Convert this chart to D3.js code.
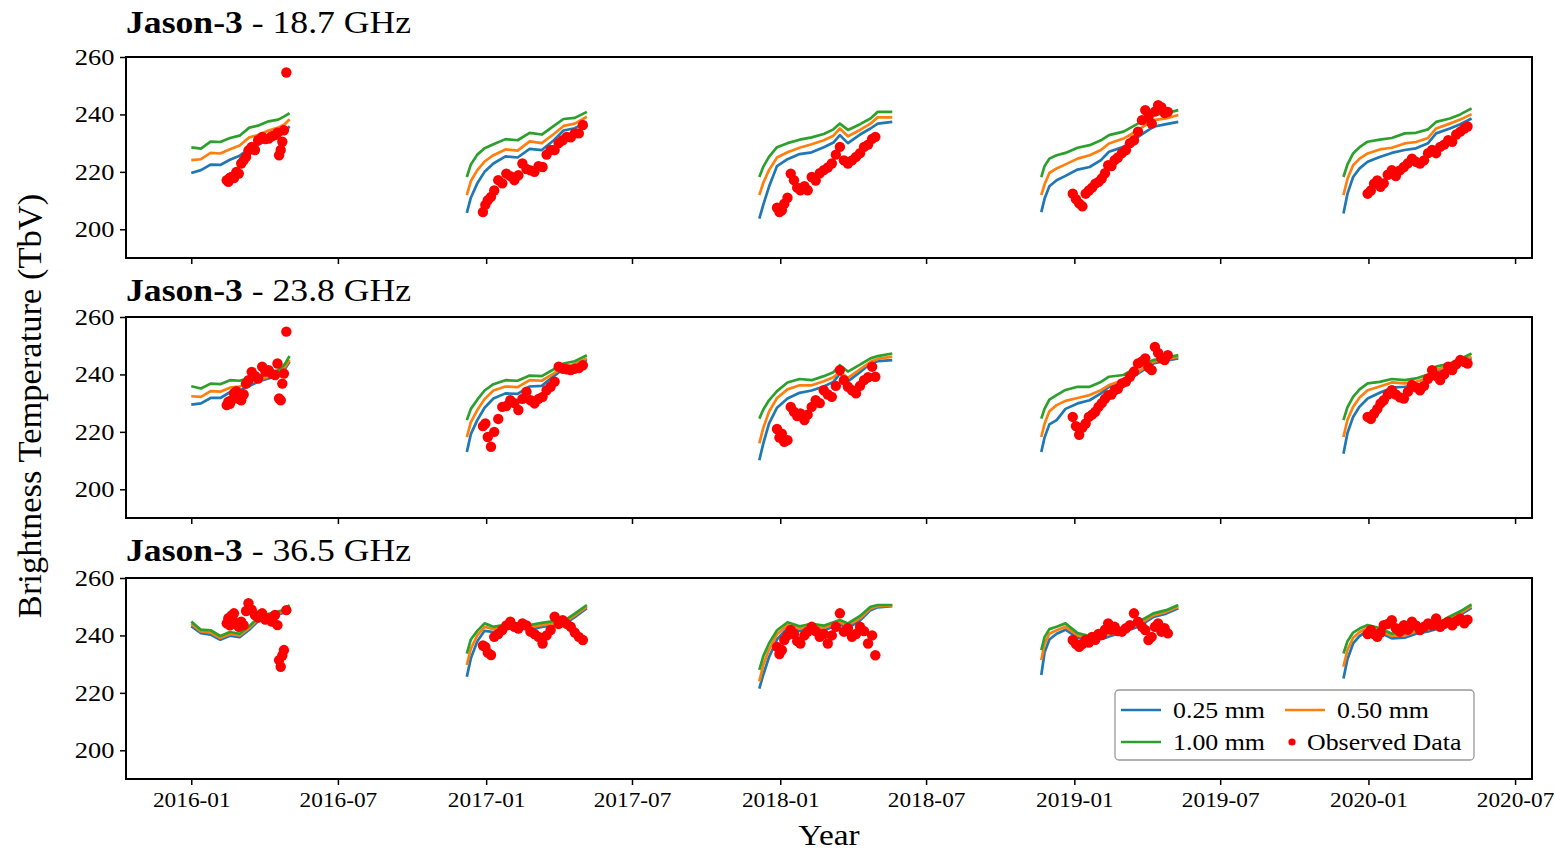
<!DOCTYPE html>
<html lang="en">
<head>
<meta charset="UTF-8">
<title>Jason-3 brightness temperature</title>
<script src="https://cdn.jsdelivr.net/npm/d3@7"></script>
<style>
    html, body { margin: 0; padding: 0; background: #fff; }
    svg { display: block; font-family: "Liberation Serif", "Times New Roman", serif; }
</style>
</head>
<body>
<svg id="chart" width="1555" height="852"></svg>
<script>
// dates are days since 2016-01-01, one list per season (Dec..May)
const lineDays = [
    [0, 12, 24, 36, 48, 60, 72, 84, 96, 108, 116, 122],
    [342, 347, 355, 364, 375, 390, 405, 420, 435, 450, 462, 476, 491],
    [705, 710, 717, 727, 740, 755, 770, 785, 797, 805, 815, 830, 843, 852, 870],
    [1055, 1059, 1065, 1074, 1085, 1100, 1115, 1129, 1139, 1157, 1175, 1194, 1210, 1225],
    [1430, 1435, 1442, 1450, 1460, 1475, 1490, 1506, 1520, 1535, 1545, 1562, 1575, 1589]
]
const obsDays = [
    [44, 46, 48, 50, 53, 56, 59, 62, 65, 68, 71, 75, 79, 83, 88, 92, 96, 100, 104, 107, 109, 111, 113, 115, 118],
    [362, 365, 368, 372, 376, 381, 386, 391, 396, 401, 406, 411, 416, 421, 426, 431, 436, 441, 446, 451, 456, 461, 466, 471, 476, 481, 486],
    [727, 730, 733, 736, 740, 744, 748, 752, 756, 761, 765, 770, 775, 780, 785, 790, 795, 800, 805, 810, 815, 820, 825, 830, 835, 840, 845, 849],
    [1094, 1098, 1102, 1106, 1110, 1114, 1118, 1122, 1126, 1130, 1134, 1138, 1142, 1146, 1150, 1155, 1160, 1165, 1170, 1175, 1180, 1184, 1188, 1192, 1196, 1200, 1204, 1208, 1212],
    [1460, 1464, 1468, 1472, 1476, 1480, 1485, 1490, 1495, 1500, 1505, 1510, 1515, 1520, 1525, 1530, 1535, 1540, 1545, 1550, 1555, 1560, 1565, 1570, 1575, 1580, 1584]
]

const channels = ['18.7 GHz', '23.8 GHz', '36.5 GHz']
const seriesNames = ['0.25 mm', '0.50 mm', '1.00 mm']
const yTicks = [200, 220, 240, 260]

// 18.7 GHz
const tb187_025 = [
    [219.6, 220.6, 222.5, 222.4, 224.2, 225.6, 228.1, 229.6, 231.4, 232.6, 233.6, 235.9],
    [205.7, 211.0, 216.0, 220.0, 222.9, 225.4, 225.0, 228.0, 227.6, 231.0, 234.4, 235.2, 237.4],
    [203.7, 208.6, 214.8, 222.0, 224.4, 226.2, 226.8, 228.6, 230.2, 232.8, 230.0, 233.0, 235.1, 236.8, 237.4],
    [206.0, 210.6, 215.0, 217.1, 218.6, 220.8, 221.7, 224.1, 227.0, 228.7, 232.2, 235.7, 236.6, 237.4],
    [205.5, 212.4, 218.2, 221.2, 223.5, 225.2, 226.6, 227.6, 228.2, 230.0, 233.4, 235.1, 236.6, 238.6]
]
const tb187_050 = [
    [224.1, 224.4, 226.6, 226.4, 227.9, 229.2, 232.0, 232.9, 234.4, 235.4, 236.6, 238.3],
    [211.9, 216.8, 220.6, 223.6, 225.8, 227.8, 227.4, 230.6, 230.0, 233.2, 236.0, 236.8, 239.2],
    [211.9, 216.2, 220.6, 225.0, 226.8, 228.4, 229.6, 231.0, 232.6, 235.1, 232.4, 234.6, 236.8, 239.0, 239.0],
    [211.9, 215.6, 219.6, 221.2, 222.6, 224.6, 225.8, 227.6, 229.9, 231.6, 234.5, 238.0, 238.6, 239.8],
    [211.9, 217.6, 222.3, 224.6, 226.4, 227.8, 228.4, 229.9, 230.4, 231.8, 235.1, 236.8, 238.2, 240.1]
]
const tb187_100 = [
    [228.5, 228.1, 230.5, 230.4, 231.8, 232.6, 235.4, 236.2, 237.6, 238.2, 239.4, 240.4],
    [218.2, 222.6, 226.0, 228.2, 229.6, 231.4, 231.0, 233.6, 233.0, 236.0, 238.4, 238.8, 240.9],
    [218.2, 221.8, 225.2, 228.6, 230.0, 231.2, 232.0, 233.2, 234.8, 236.8, 234.6, 236.6, 238.6, 240.9, 240.9],
    [218.2, 222.0, 224.6, 225.8, 226.6, 228.4, 229.3, 231.0, 232.8, 234.0, 236.8, 239.8, 240.4, 241.5],
    [218.2, 222.6, 226.4, 228.6, 230.5, 231.2, 231.8, 233.4, 233.6, 234.8, 237.4, 238.6, 240.0, 242.1]
]
const obs187 = [
    [217.1, 216.5, 218.0, 218.2, 217.8, 220.0, 219.4, 222.9, 224.0, 225.2, 227.5, 228.7, 227.6, 231.0, 232.2, 231.4, 231.6, 232.4, 232.8, 233.6, 225.8, 227.6, 230.5, 234.5, 254.6],
    [206.0, 208.5, 210.1, 211.3, 213.5, 217.1, 216.0, 219.4, 218.5, 217.1, 218.8, 222.9, 221.0, 220.5, 220.0, 222.0, 221.7, 226.0, 227.6, 227.6, 230.0, 231.0, 232.2, 232.0, 233.4, 233.4, 236.3],
    [207.5, 206.0, 206.6, 208.9, 211.0, 219.4, 217.1, 214.5, 213.6, 215.0, 213.6, 218.2, 217.0, 219.5, 220.6, 221.5, 222.9, 226.0, 228.7, 224.0, 222.9, 224.0, 225.2, 226.5, 228.7, 229.5, 231.5, 232.2],
    [212.4, 210.5, 209.0, 208.0, 212.4, 213.5, 214.5, 215.9, 216.5, 217.7, 219.5, 222.3, 222.0, 224.1, 225.0, 226.5, 227.6, 230.0, 231.0, 234.0, 238.0, 241.5, 239.0, 236.8, 241.0, 243.2, 242.5, 240.5, 240.9],
    [212.4, 213.5, 215.9, 217.0, 214.8, 216.0, 219.0, 220.6, 218.5, 220.5, 221.7, 223.0, 224.6, 223.5, 222.9, 224.0, 226.5, 227.6, 226.5, 228.7, 229.5, 231.0, 230.5, 233.0, 234.0, 235.1, 235.8]
]

// 23.8 GHz
const tb238_025 = [
    [229.5, 229.9, 231.8, 231.8, 233.8, 234.4, 236.0, 237.6, 238.6, 239.8, 241.8, 244.4],
    [213.0, 219.2, 224.1, 228.4, 231.6, 233.4, 233.2, 235.8, 236.0, 239.4, 242.0, 243.0, 245.0],
    [210.1, 216.0, 222.9, 228.4, 231.6, 233.6, 234.4, 235.8, 237.4, 240.3, 237.6, 240.8, 243.8, 244.6, 245.0],
    [213.0, 218.0, 222.6, 224.1, 228.0, 229.9, 231.0, 233.4, 235.7, 236.9, 240.3, 243.8, 244.8, 245.6],
    [212.4, 219.6, 225.2, 228.8, 231.6, 233.6, 235.4, 235.7, 236.2, 237.6, 240.9, 242.7, 244.0, 245.6]
]
const tb238_050 = [
    [232.4, 232.2, 234.2, 234.0, 235.4, 235.8, 237.2, 238.2, 239.2, 240.3, 242.4, 245.0],
    [218.2, 223.4, 227.6, 231.4, 234.4, 235.8, 235.6, 238.0, 237.8, 240.4, 242.6, 243.6, 245.6],
    [216.0, 221.4, 227.0, 231.8, 234.8, 236.2, 236.2, 237.6, 239.0, 240.9, 238.8, 241.8, 244.4, 245.4, 246.2],
    [218.2, 222.8, 227.2, 229.3, 230.8, 231.8, 232.8, 234.5, 236.3, 238.0, 240.9, 244.4, 245.2, 246.2],
    [218.2, 224.2, 228.7, 232.0, 234.5, 235.8, 237.2, 236.9, 237.4, 238.8, 241.5, 243.2, 244.6, 246.2]
]
const tb238_100 = [
    [235.9, 235.1, 236.8, 236.6, 238.0, 237.8, 238.8, 239.0, 240.2, 241.5, 243.5, 246.4],
    [224.1, 228.0, 231.2, 234.4, 236.6, 238.0, 237.8, 239.6, 239.4, 241.8, 243.8, 244.6, 246.7],
    [224.6, 227.8, 231.0, 234.2, 237.2, 238.4, 238.0, 239.4, 240.8, 243.2, 241.0, 243.4, 245.6, 246.4, 247.3],
    [224.6, 228.0, 231.2, 232.8, 234.6, 235.7, 235.7, 237.4, 239.2, 239.8, 242.7, 245.0, 245.8, 246.7],
    [224.1, 228.6, 232.2, 234.8, 236.9, 237.4, 238.4, 238.0, 238.6, 240.0, 242.7, 243.8, 245.4, 247.3]
]
const obs238 = [
    [229.3, 230.5, 229.8, 231.0, 233.5, 234.2, 231.5, 231.0, 233.0, 236.8, 238.0, 240.9, 239.5, 238.6, 242.7, 241.0, 241.5, 240.2, 239.8, 243.8, 231.6, 231.0, 236.8, 240.3, 254.9],
    [222.0, 222.9, 218.2, 214.8, 220.0, 224.5, 228.7, 229.0, 231.0, 230.0, 227.6, 231.5, 234.0, 231.0, 229.9, 231.5, 232.2, 234.5, 235.7, 237.5, 242.7, 242.0, 241.8, 241.5, 242.0, 242.2, 243.2],
    [221.0, 218.0, 219.4, 216.5, 217.1, 228.7, 227.0, 225.5, 226.4, 224.1, 226.0, 228.7, 231.0, 230.0, 234.5, 233.0, 232.2, 236.0, 241.5, 238.0, 235.7, 234.5, 233.4, 236.0, 238.0, 239.0, 242.7, 239.2],
    [225.2, 222.0, 219.0, 221.5, 222.9, 225.2, 226.0, 227.0, 228.7, 230.0, 231.5, 232.8, 233.0, 234.5, 235.0, 236.9, 237.5, 239.2, 241.0, 243.8, 244.5, 245.6, 242.5, 241.5, 249.6, 247.5, 245.6, 245.0, 246.7],
    [225.2, 224.5, 226.4, 228.0, 229.9, 231.0, 233.0, 234.5, 233.0, 232.0, 231.6, 234.0, 236.3, 235.5, 234.5, 236.0, 238.5, 241.5, 239.5, 238.0, 240.0, 242.7, 241.5, 243.5, 245.0, 244.4, 243.8]
]

// 36.5 GHz
const tb365_025 = [
    [243.2, 240.8, 240.3, 238.5, 239.9, 239.4, 242.0, 245.3, 246.4, 247.3, 248.0, 249.5],
    [225.6, 232.0, 238.0, 241.6, 241.2, 242.2, 242.6, 242.0, 243.0, 243.6, 243.8, 246.4, 249.5],
    [221.5, 226.4, 232.4, 238.6, 242.6, 241.6, 242.4, 241.8, 243.0, 243.8, 242.6, 245.2, 248.8, 249.8, 250.2],
    [226.2, 234.0, 238.6, 240.6, 242.0, 239.2, 238.2, 238.8, 239.6, 241.2, 243.0, 246.4, 247.6, 249.5],
    [225.0, 231.8, 237.2, 239.8, 241.6, 241.0, 239.0, 239.2, 240.6, 241.4, 242.2, 245.0, 247.2, 249.6]
]
const tb365_050 = [
    [244.0, 241.4, 241.0, 239.1, 240.5, 240.0, 242.6, 245.9, 247.0, 247.8, 248.5, 250.0],
    [229.7, 235.4, 240.0, 243.0, 242.2, 243.0, 243.4, 242.8, 243.6, 244.2, 244.4, 247.0, 250.0],
    [224.0, 229.8, 235.0, 240.4, 243.6, 242.4, 243.2, 242.6, 243.8, 244.6, 243.4, 246.0, 249.4, 250.2, 250.4],
    [231.4, 237.0, 240.6, 241.8, 243.0, 240.0, 239.0, 239.6, 240.4, 242.0, 243.8, 247.0, 248.2, 250.0],
    [229.1, 235.0, 239.2, 241.2, 242.6, 241.8, 239.8, 240.0, 241.4, 242.2, 243.0, 245.8, 247.8, 250.2]
]
const tb365_100 = [
    [244.8, 242.0, 241.8, 239.8, 241.2, 240.6, 243.2, 246.5, 247.5, 248.3, 249.0, 250.6],
    [233.7, 238.6, 241.6, 244.2, 243.0, 243.8, 244.2, 243.6, 244.4, 245.0, 245.0, 247.6, 250.6],
    [228.0, 232.8, 237.2, 241.8, 244.6, 243.2, 244.0, 243.4, 244.6, 245.4, 244.2, 246.8, 250.0, 250.6, 250.6],
    [234.9, 239.4, 242.2, 243.0, 244.2, 240.8, 239.8, 240.4, 241.2, 242.8, 244.6, 247.7, 248.8, 250.6],
    [233.7, 238.0, 241.0, 242.4, 243.6, 242.6, 240.6, 240.8, 242.2, 243.0, 243.8, 246.6, 248.4, 250.8]
]
const obs365 = [
    [244.2, 246.0, 243.5, 247.0, 247.7, 244.5, 243.0, 244.8, 243.6, 248.5, 251.2, 249.0, 247.1, 246.2, 247.7, 245.5, 245.9, 244.8, 247.1, 243.6, 231.4, 229.1, 233.0, 234.9, 248.8],
    [236.5, 236.0, 234.0, 233.2, 239.5, 240.5, 241.9, 243.5, 244.8, 243.0, 242.4, 244.2, 243.5, 241.3, 240.5, 239.5, 237.2, 240.0, 241.9, 246.5, 244.0, 245.3, 244.0, 243.0, 241.0, 239.5, 238.4],
    [236.0, 233.5, 234.9, 238.4, 240.0, 241.9, 240.5, 238.0, 237.2, 240.0, 241.3, 243.0, 241.5, 239.5, 240.5, 237.2, 240.0, 243.0, 247.7, 241.3, 242.5, 239.5, 240.5, 243.0, 241.5, 237.2, 240.0, 233.1],
    [238.4, 237.0, 236.0, 237.0, 238.4, 237.5, 239.5, 238.5, 240.5, 240.1, 242.0, 244.2, 242.0, 243.0, 241.5, 241.3, 242.5, 243.6, 247.7, 244.8, 243.0, 241.9, 238.4, 239.5, 243.0, 244.2, 241.3, 242.5, 240.7],
    [240.5, 241.9, 240.5, 239.5, 241.0, 243.6, 244.0, 245.3, 242.5, 241.3, 243.6, 242.0, 244.8, 243.5, 241.9, 243.0, 244.2, 243.5, 245.9, 243.0, 244.0, 244.8, 243.5, 245.0, 245.9, 244.2, 245.5]
]

const panels = [
    { freq: channels[0], lines: [tb187_025, tb187_050, tb187_100], obs: obs187 },
    { freq: channels[1], lines: [tb238_025, tb238_050, tb238_100], obs: obs238 },
    { freq: channels[2], lines: [tb365_025, tb365_050, tb365_100], obs: obs365 }
]

const colors = ['#1f77b4', '#ff7f0e', '#2ca02c']
const obsColor = '#ff0000'

// layout
const left = 126, right = 1532
const tops = [57, 317, 578]
const ph = 201
const titleBase = [33, 301, 561]
const SX = 1.15  // the original figure is a little wide, stretch text the same way

const t0 = Date.UTC(2016, 0, 1)
const toDate = d => new Date(t0 + d * 864e5)

const x = d3.scaleUtc()
    .domain([new Date(Date.UTC(2015, 9, 12)), new Date(Date.UTC(2020, 6, 22))])
    .range([left, right])

const svg = d3.select('#chart')

panels.forEach((p, pi) => {
    const top = tops[pi]
    const y = d3.scaleLinear().domain([190, 260]).range([top + ph, top])
    const g = svg.append('g')

    const line = d3.line()
        .x(d => x(toDate(d[0])))
        .y(d => y(d[1]))

    // model lines, one path per season
    p.lines.forEach((ser, si) => {
        ser.forEach((vals, k) => {
            g.append('path')
                .datum(lineDays[k].map((d, i) => [d, vals[i]]))
                .attr('d', line)
                .attr('fill', 'none')
                .attr('stroke', colors[si])
                .attr('stroke-width', 2.7)
                .attr('stroke-linejoin', 'round')
        })
    })

    // observations
    const pts = []
    p.obs.forEach((vals, k) => vals.forEach((v, i) => pts.push([obsDays[k][i], v])))
    g.selectAll('circle.obs')
        .data(pts)
        .join('circle')
        .attr('class', 'obs')
        .attr('cx', d => x(toDate(d[0])))
        .attr('cy', d => y(d[1]))
        .attr('r', 5.2)
        .attr('fill', obsColor)

    // frame
    g.append('rect')
        .attr('x', left).attr('y', top)
        .attr('width', right - left).attr('height', ph)
        .attr('fill', 'none').attr('stroke', '#000').attr('stroke-width', 2)

    // y axis
    const ya = g.append('g')
        .attr('transform', `translate(${left},0)`)
        .call(d3.axisLeft(y).tickValues(yTicks).tickSize(6).tickPadding(4))
    ya.select('.domain').remove()
    ya.selectAll('line').attr('stroke-width', 1.5)
    ya.selectAll('text')
        .attr('font-size', 23)
        .attr('font-family', '"Liberation Serif", serif')
        .attr('fill', '#000')
        .attr('transform', `scale(${SX},1)`)

    // x axis
    const xa = g.append('g')
        .attr('transform', `translate(0,${top + ph})`)
        .call(d3.axisBottom(x)
            .ticks(d3.utcMonth.every(6))
            .tickFormat(d3.utcFormat('%Y-%m'))
            .tickSize(6).tickPadding(6))
    xa.select('.domain').remove()
    xa.selectAll('line').attr('stroke-width', 1.5)
    if (pi < 2) {
        xa.selectAll('text').remove()
    } else {
        xa.selectAll('.tick text')
            .attr('font-size', 22)
            .attr('font-family', '"Liberation Serif", serif')
            .attr('fill', '#000')
            .attr('transform', 'scale(1.06,1)')
    }

    // title
    const title = svg.append('text')
        .attr('transform', `translate(${left},${titleBase[pi]}) scale(${SX},1)`)
        .attr('font-size', 31)
        .attr('fill', '#000')
    title.append('tspan').attr('font-weight', 'bold').text('Jason-3')
    title.append('tspan').text(' - ' + p.freq)

    // legend in the last panel
    if (pi === 2) {
        const lg = svg.append('g')
        lg.append('rect')
            .attr('x', 1115).attr('y', 690).attr('width', 359).attr('height', 70)
            .attr('rx', 4)
            .attr('fill', '#fff').attr('stroke', '#999').attr('stroke-width', 1.3)
        const items = [
            { t: seriesNames[0], c: colors[0], x: 1121, y: 710, kind: 'line' },
            { t: seriesNames[1], c: colors[1], x: 1285, y: 710, kind: 'line' },
            { t: seriesNames[2], c: colors[2], x: 1121, y: 742, kind: 'line' },
            { t: 'Observed Data', c: obsColor, x: 1285, y: 742, kind: 'dot' }
        ]
        items.forEach(it => {
            if (it.kind === 'line') {
                lg.append('line')
                    .attr('x1', it.x).attr('x2', it.x + 40)
                    .attr('y1', it.y).attr('y2', it.y)
                    .attr('stroke', it.c).attr('stroke-width', 2.7)
            } else {
                lg.append('circle').attr('cx', it.x + 7).attr('cy', it.y).attr('r', 3.6).attr('fill', it.c)
            }
            const tx = it.kind === 'line' ? it.x + 52 : it.x + 22
            lg.append('text')
                .attr('transform', `translate(${tx},${it.y + 8}) scale(${SX},1)`)
                .attr('font-size', 22.5)
                .attr('fill', '#000')
                .text(it.t)
        })
    }
})

// axis titles
svg.append('text')
    .attr('transform', `translate(829,845) scale(${SX},1)`)
    .attr('text-anchor', 'middle')
    .attr('font-size', 29)
    .text('Year')

svg.append('text')
    .attr('transform', 'translate(41,406) rotate(-90)')
    .attr('text-anchor', 'middle')
    .attr('font-size', 34.5)
    .text('Brightness Temperature (TbV)')
</script>
</body>
</html>
